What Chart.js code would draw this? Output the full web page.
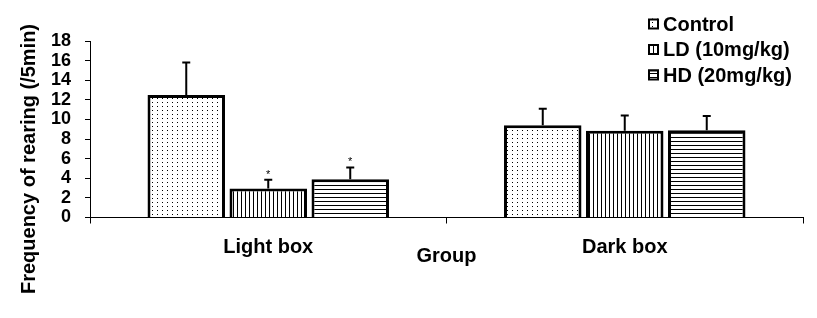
<!DOCTYPE html>
<html>
<head>
<meta charset="utf-8">
<script src="https://cdn.jsdelivr.net/npm/chart.js@4.4.0/dist/chart.umd.min.js"></script>
<style>
  html, body { margin: 0; padding: 0; background: #fff; }
</style>
</head>
<body>
<canvas id="chart" width="817" height="318"></canvas>
<script>
// values
let groups = ["Light box", "Dark box"]
let seriesNames = ["Control", "LD (10mg/kg)", "HD (20mg/kg)"]
let controlMean = [12.5, 9.4]
let controlErr = [3.3, 1.7]
let ldMean = [2.95, 8.85]
let ldErr = [0.9, 1.55]
let hdMean = [3.9, 8.9]
let hdErr = [1.2, 1.45]
let controlSig = ["", ""]
let ldSig = ["*", ""]
let hdSig = ["*", ""]
let yTicks = [0, 2, 4, 6, 8, 10, 12, 14, 16, 18]
let yTitle = "Frequency of rearing (/5min)"
let xTitle = "Group"

const FONT = "'Liberation Sans', Arial, sans-serif"
Chart.defaults.font.family = FONT
Chart.defaults.color = '#000'


function makePattern(kind) {
    let c = document.createElement('canvas')
    if (kind === 'dots') { c.width = 5; c.height = 4 }
    if (kind === 'vlines') { c.width = 4; c.height = 4 }
    if (kind === 'hlines') { c.width = 4; c.height = 4 }
    let g = c.getContext('2d')
    g.fillStyle = '#fff'
    g.fillRect(0, 0, c.width, c.height)
    g.fillStyle = '#000'
    if (kind === 'dots') g.fillRect(2, 2, 1, 1)
    if (kind === 'vlines') g.fillRect(1, 0, 1, 4)
    if (kind === 'hlines') g.fillRect(0, 1, 4, 1)
    return g.createPattern(c, 'repeat')
}


// error bars, asterisks, y title and legend
const extras = {
    id: 'extras',
    afterDatasetsDraw(chart) {
        let ctx = chart.ctx
        let y = chart.scales.y
        ctx.save()
        ctx.strokeStyle = '#000'
        ctx.fillStyle = '#000'
        ctx.lineWidth = 2
        chart.data.datasets.forEach((ds, i) => {
            chart.getDatasetMeta(i).data.forEach((bar, j) => {
                let top = y.getPixelForValue(ds.data[j] + ds.err[j])
                ctx.beginPath()
                ctx.moveTo(bar.x, bar.y)
                ctx.lineTo(bar.x, top)
                ctx.moveTo(bar.x - 4, top)
                ctx.lineTo(bar.x + 4, top)
                ctx.stroke()
                if (ds.sig[j]) {
                    ctx.font = "11px " + FONT
                    ctx.textAlign = 'center'
                    ctx.textBaseline = 'alphabetic'
                    ctx.fillText(ds.sig[j], bar.x, top - 2)
                }
            })
        })
        ctx.restore()
    },
    afterDraw(chart) {
        let ctx = chart.ctx
        ctx.save()
        ctx.fillStyle = '#000'
        ctx.font = "bold 20px " + FONT
        ctx.textAlign = 'center'
        ctx.textBaseline = 'middle'
        ctx.translate(29, 159)
        ctx.rotate(-Math.PI / 2)
        ctx.fillText(yTitle, 0, 0)
        ctx.restore()

        ctx.save()
        ctx.font = "bold 20px " + FONT
        ctx.textAlign = 'left'
        ctx.textBaseline = 'middle'
        chart.data.datasets.forEach((ds, i) => {
            let cy = 24 + 25.5 * i
            ctx.fillStyle = ds.backgroundColor
            ctx.fillRect(648, cy - 5.5, 11, 11)
            ctx.strokeStyle = '#000'
            ctx.lineWidth = 2
            ctx.strokeRect(649, cy - 4.5, 9, 9)
            ctx.fillStyle = '#000'
            ctx.fillText(ds.label, 663, cy + 1)
        })
        ctx.restore()
    }
}


let ctx = document.getElementById('chart')
let chart = new Chart(ctx, {
    type: 'bar',
    data: {
        labels: groups,
        datasets: [{
            label: seriesNames[0],
            data: controlMean,
            err: controlErr,
            sig: controlSig,
            backgroundColor: makePattern('dots')
        },
        {
            label: seriesNames[1],
            data: ldMean,
            err: ldErr,
            sig: ldSig,
            backgroundColor: makePattern('vlines')
        },
        {
            label: seriesNames[2],
            data: hdMean,
            err: hdErr,
            sig: hdSig,
            backgroundColor: makePattern('hlines')
        }]
    },
    options: {
        responsive: false,
        animation: false,
        devicePixelRatio: 1,
        layout: { padding: { top: 41, right: 14, left: 0, bottom: 0 } },
        datasets: {
            bar: {
                borderColor: '#000',
                borderWidth: 3,
                categoryPercentage: 0.69,
                barPercentage: 0.945
            }
        },
        scales: {
            x: {
                grid: { drawOnChartArea: false, tickLength: 6, color: '#000', offset: true },
                border: { color: '#000', width: 1 },
                ticks: { padding: 12, font: { size: 20, weight: 'bold' } },
                title: {
                    display: true,
                    text: xTitle,
                    font: { size: 20, weight: 'bold' },
                    padding: { top: 0, bottom: 50 }
                },
                afterFit: function(scale) { scale.height = 100.5 }
            },
            y: {
                min: 0,
                max: 18,
                afterBuildTicks: function(axis) { axis.ticks = yTicks.map(v => ({ value: v })) },
                grid: { drawOnChartArea: false, tickLength: 5, color: '#000' },
                border: { color: '#000', width: 1 },
                ticks: { autoSkip: false, padding: 14, font: { size: 18, weight: 'bold' } },
                afterFit: function(scale) { scale.width = 90 }
            }
        },
        plugins: {
            legend: { display: false },
            tooltip: { enabled: false }
        }
    },
    plugins: [extras]
})
</script>
</body>
</html>
